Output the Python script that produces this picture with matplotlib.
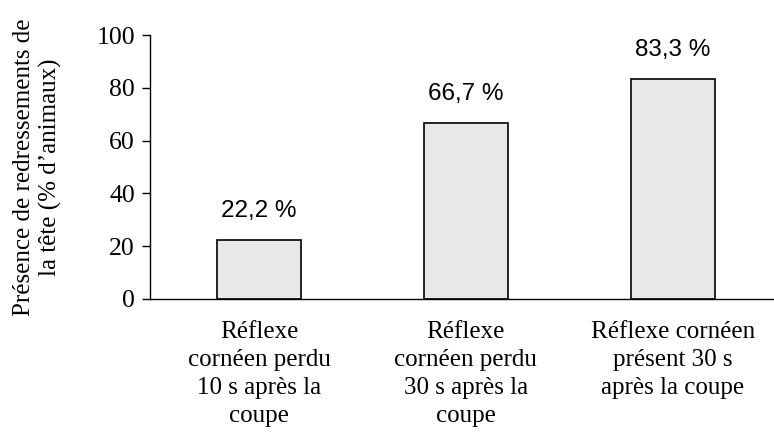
import numpy as np
import matplotlib.pyplot as plt

# Données
categories = [
    "Réflexe\ncornéen perdu\n10 s après la\ncoupe",
    "Réflexe\ncornéen perdu\n30 s après la\ncoupe",
    "Réflexe cornéen\nprésent 30 s\naprès la coupe",
]
values = [22.2, 66.7, 83.3]
value_labels = ["22,2 %", "66,7 %", "83,3 %"]
yticks = [0, 20, 40, 60, 80, 100]

SERIF = ["Liberation Serif", "DejaVu Serif"]
SANS = ["Liberation Sans", "DejaVu Sans"]

fig = plt.figure(figsize=(7.74, 4.44), dpi=100)
ax = fig.add_axes([0.194, 0.327, 0.806, 0.594])

x = np.arange(len(categories))

ax.bar(
    x,
    values,
    width=0.405,
    color="#e8e8e8",
    edgecolor="black",
    linewidth=1.2,
    zorder=2
)

for xi, v, lab in zip(x, values, value_labels):
    ax.annotate(
        lab,
        (xi, v),
        xytext=(0, 13),
        textcoords="offset points",
        ha="center",
        va="bottom",
        fontsize=17.5,
        family=SANS
    )

ax.set_xlim(-0.527, 2.49)
ax.set_ylim(0, 100)

ax.set_yticks(yticks)
ax.set_yticklabels([str(t) for t in yticks], family=SERIF, fontsize=18.5)
ax.set_xticks(x)
ax.set_xticklabels(categories, family=SERIF, fontsize=18, linespacing=1.35)

ax.tick_params(axis="x", length=0, pad=16)
ax.tick_params(axis="y", length=6, width=1, pad=5)

ax.spines["top"].set_visible(False)
ax.spines["right"].set_visible(False)
ax.spines["left"].set_linewidth(1)
ax.spines["bottom"].set_linewidth(1)

ax.set_ylabel(
    "Présence de redressements de\nla tête (% d’animaux)",
    family=SERIF,
    fontsize=18,
    linespacing=1.2,
    labelpad=25
)

fig.savefig("out.png", dpi=100)
